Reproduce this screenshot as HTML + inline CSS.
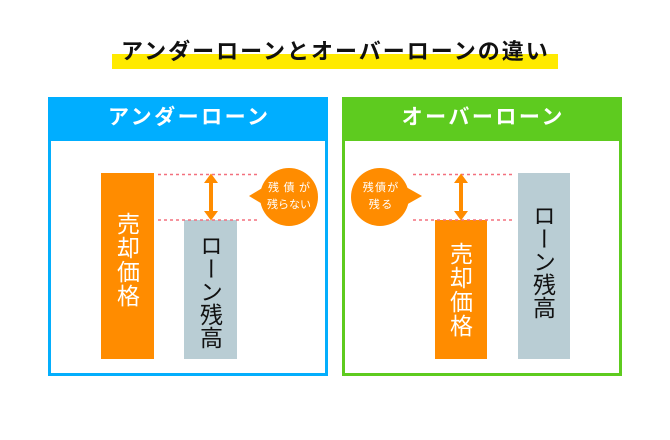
<!DOCTYPE html>
<html><head><meta charset="utf-8"><style>
html,body{margin:0;padding:0;background:#fff;}
body{width:670px;height:440px;position:relative;overflow:hidden;font-family:"Liberation Sans","Noto Sans CJK JP",sans-serif;}
.a{position:absolute;}
.title{left:121px;top:41px;font-size:22px;line-height:22px;font-weight:bold;letter-spacing:2px;color:#111;white-space:nowrap;}
.panel{position:absolute;top:97px;width:280px;height:279px;box-sizing:border-box;border:3px solid;}
.hd{position:absolute;left:-3px;top:-3px;width:280px;height:44px;color:#fff;font-size:21px;line-height:42px;font-weight:bold;text-align:center;letter-spacing:2.5px;text-indent:2.5px;white-space:nowrap;}
.v{position:absolute;writing-mode:vertical-rl;font-family:"Noto Sans CJK JP",sans-serif;white-space:nowrap;}
.vw{color:#fff;font-size:23px;line-height:23px;width:23px;letter-spacing:1px;}
.vb{color:#111;font-size:23px;line-height:23px;width:23px;letter-spacing:0px;}
.bt{position:absolute;color:#fff;font-size:11px;line-height:11px;text-align:center;white-space:nowrap;width:80px;font-family:"Noto Sans CJK JP",sans-serif;}
</style></head><body>
<div class="a" style="left:112px;top:54px;width:446px;height:15px;background:#ffea00;"></div>
<div class="a title">アンダーローンとオーバーローンの違い</div>

<div class="panel" style="left:48px;border-color:#04aefc;"><div class="hd" style="background:#00aeff;">アンダーローン</div></div>
<div class="panel" style="left:342px;border-color:#5ecb1f;"><div class="hd" style="background:#5ecb1f;">オーバーローン</div></div>

<svg class="a" style="left:0;top:0" width="670" height="440" viewBox="0 0 670 440">
  <!-- left panel -->
  <rect x="101" y="173" width="53" height="186" fill="#ff8c00"/>
  <rect x="184" y="220" width="53" height="139" fill="#b9cdd4"/>
  <line x1="158" y1="174.5" x2="258" y2="174.5" stroke="#f3707e" stroke-width="1.5" stroke-dasharray="3 3"/>
  <line x1="158" y1="220" x2="258" y2="220" stroke="#f3707e" stroke-width="1.5" stroke-dasharray="3 3"/>
  <rect x="209" y="181" width="4" height="32" fill="#ff8c00"/>
  <polygon points="211,173.5 204,183 218,183" fill="#ff8c00"/>
  <polygon points="211,220.5 204,211 218,211" fill="#ff8c00"/>
  <circle cx="289" cy="197" r="29" fill="#ff8c00"/>
  <polygon points="249,196 264,187 264,205" fill="#ff8c00"/>
  <!-- right panel -->
  <rect x="435" y="220" width="52" height="139" fill="#ff8c00"/>
  <rect x="518" y="173" width="52" height="186" fill="#b9cdd4"/>
  <line x1="413" y1="174.5" x2="512" y2="174.5" stroke="#f3707e" stroke-width="1.5" stroke-dasharray="3 3"/>
  <line x1="413" y1="220" x2="512" y2="220" stroke="#f3707e" stroke-width="1.5" stroke-dasharray="3 3"/>
  <rect x="459" y="181" width="4" height="32" fill="#ff8c00"/>
  <polygon points="461,173.5 454,183 468,183" fill="#ff8c00"/>
  <polygon points="461,220.5 454,211 468,211" fill="#ff8c00"/>
  <circle cx="380" cy="197" r="29" fill="#ff8c00"/>
  <polygon points="422,196 406,187 406,205" fill="#ff8c00"/>
</svg>

<div class="v vw" style="left:116.5px;top:212px;">売却価格</div>
<div class="v vb" style="left:199.5px;top:234px;">ローン残高</div>
<div class="v vw" style="left:449.5px;top:242px;">売却価格</div>
<div class="v vb" style="left:532.5px;top:204px;">ローン残高</div>

<div class="bt" style="left:249px;top:182px;letter-spacing:4.5px;text-indent:4.5px;">残債が</div>
<div class="bt" style="left:249px;top:199px;letter-spacing:0px;">残らない</div>
<div class="bt" style="left:340.5px;top:182px;letter-spacing:1.3px;text-indent:1.3px;">残債が</div>
<div class="bt" style="left:340.5px;top:199px;letter-spacing:1.5px;text-indent:1.5px;">残る</div>
</body></html>
